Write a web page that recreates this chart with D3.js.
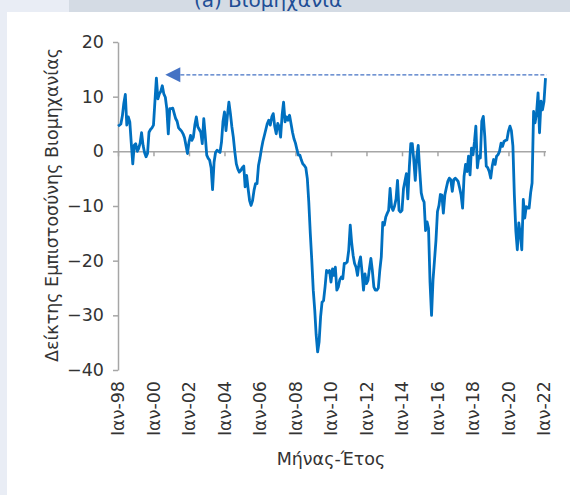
<!DOCTYPE html>
<html>
<head>
<meta charset="utf-8">
<script src="https://cdn.jsdelivr.net/npm/d3@7"></script>
<style>
  body { margin: 0; }
  svg text { font-family: 'DejaVu Sans', sans-serif; }
</style>
</head>
<body>
<div id="chart"></div>
<script>
// data: monthly industry confidence index, Jan 1998 .. Feb 2022
var startYear = 1998;
var startMonth = 0;
var industry = [
  4.6, 4.8, 5.0, 6.5, 8.8, 10.4, 4.8, 6.3, 5.4, 1.5, -2.3, 1.1,
  1.4, 0.0, 0.5, 1.5, 3.4, 1.1, -0.2, -1.0, -0.4, 3.5, 4.0, 4.3,
  4.8, 9.3, 13.4, 9.6, 10.5, 11.0, 12.0, 10.5, 9.9, 7.8, 3.2, 7.8,
  7.8, 7.9, 7.0, 6.0, 5.5, 4.3, 4.0, 3.7, 3.2, 2.5, 1.0, -0.4,
  1.7, 2.9, 2.0, 2.6, 4.8, 6.3, 4.5, 4.0, 3.5, 1.4, 6.0, 2.9,
  -0.7, -1.3, -1.6, -3.0, -7.0, -2.0, -0.2, 0.2, 0.0, -0.2, 1.7, 5.4,
  7.2, 3.8, 6.5, 9.0, 7.0, 4.5, 2.6, -0.1, -2.3, -3.2, -3.8, -3.5,
  -3.0, -2.7, -6.5, -4.4, -6.8, -9.0, -9.9, -9.0, -7.1, -5.9, -5.9, -2.6,
  -1.2, 0.5, 1.8, 2.9, 4.0, 5.1, 5.7, 4.8, 6.3, 6.9, 4.5, 3.2,
  5.1, 4.5, 2.6, 6.6, 9.0, 5.4, 6.3, 5.7, 6.6, 5.1, 3.5, 2.3,
  1.5, 0.3, -0.7, -0.7, -1.6, -2.3, -2.6, -3.0, -5.0, -9.3, -15.0, -19.8,
  -25.4, -29.1, -33.5, -36.7, -34.9, -30.3, -27.6, -27.3, -24.8, -21.8, -22.1, -21.8,
  -23.9, -21.5, -22.7, -21.2, -25.4, -24.8, -23.5, -23.0, -23.3, -20.5, -20.5, -20.2,
  -18.1, -13.5, -16.6, -19.0, -20.5, -21.2, -22.7, -20.5, -19.3, -22.0, -25.4, -22.4,
  -24.2, -23.6, -21.5, -19.6, -21.8, -24.8, -25.4, -25.4, -25.0, -21.8, -19.3, -13.0,
  -13.5, -12.0, -11.4, -10.8, -6.8, -10.2, -10.8, -10.0, -8.7, -5.3, -10.8, -11.1,
  -10.8, -6.8, -5.5, -4.1, -8.7, -2.9, 1.4, 1.4, -1.6, -5.3, -1.0, 1.1,
  -3.5, -7.6, -8.7, -9.3, -14.5, -12.9, -14.1, -24.0, -30.0, -23.6, -19.9, -16.3,
  -11.0, -9.9, -7.9, -8.0, -11.3, -8.0, -6.7, -5.5, -4.9, -5.2, -7.3, -5.2,
  -4.9, -5.2, -5.5, -6.7, -8.0, -10.4, -4.6, -2.4, -3.7, -0.9, -4.3, 0.6,
  -0.6, 1.8, 4.6, -3.0, -0.9, -1.2, 5.5, 6.4, 2.7, -2.7, -3.0, -3.7,
  -4.9, -2.7, -1.5, -2.4, -0.9, -0.6, 0.0, 1.5, 0.9, 1.8, 2.0, 2.1,
  3.7, 4.6, 3.8, 1.0, -8.0, -14.6, -18.0, -13.1, -15.2, -18.0, -8.8, -12.2,
  -10.1, -10.4, -10.4, -7.6, -5.8, 7.3, 5.2, 7.0, 10.7, 3.4, 9.2, 7.6,
  9.1, 13.4
];
var xTickYears = [1998, 2000, 2002, 2004, 2006, 2008, 2010, 2012, 2014, 2016, 2018, 2020, 2022];
var yTicks = [-40, -30, -20, -10, 0, 10, 20];
// dashed guide: latest level carried back to 2000
var guideLevel = 14;
var guideFrom = [2022, 1];
var guideTo = [2000, 8];

var title = '(a) Βιομηχανία';
var yTitle = 'Δείκτης Εμπιστοσύνης Βιομηχανίας';
var xTitle = 'Μήνας-Έτος';
var monthShort = 'Ιαν';

// size
var W = 570;
var H = 495;

var svg = d3
  .select('#chart')
  .append('svg')
  .attr('width', W)
  .attr('height', H);

// background panels
svg.append('rect').attr('width', W).attr('height', H).attr('fill', '#e9edf5');
svg
  .append('rect')
  .attr('x', 69)
  .attr('y', 0)
  .attr('width', W - 69)
  .attr('height', 12)
  .attr('fill', '#d4dbe4');
svg
  .append('rect')
  .attr('x', 7)
  .attr('y', 12)
  .attr('width', W - 7)
  .attr('height', H - 12)
  .attr('fill', '#ffffff');

// title, cut by the top edge as in the source page
svg
  .append('text')
  .attr('x', 268)
  .attr('y', 6.5)
  .attr('text-anchor', 'middle')
  .attr('font-size', 20)
  .attr('fill', '#1f4e96')
  .text(title);

// scales
var points = industry.map(function (v, i) {
  return { date: new Date(startYear, startMonth + i, 1), value: v };
});
var x = d3
  .scaleTime()
  .domain([points[0].date, points[points.length - 1].date])
  .range([118, 545.5]);
var y = d3.scaleLinear().domain([-40, 20]).range([370, 42]);

var axisColor = '#a6a6a6';
var textColor = '#333333';
var fontSize = 17.5;

// axis: y
var gy = svg
  .append('g')
  .attr('transform', 'translate(118,0)')
  .call(
    d3.axisLeft(y).tickValues(yTicks).tickSize(5).tickSizeOuter(0).tickPadding(9)
  );
gy.select('.domain').attr('stroke', axisColor).attr('stroke-width', 1.5);
gy.selectAll('.tick line').attr('stroke', axisColor).attr('stroke-width', 1.5);
gy.selectAll('.tick text')
  .attr('font-size', fontSize)
  .attr('fill', textColor)
  .attr('font-family', "'DejaVu Sans', sans-serif");

// axis: x (drawn on the zero line)
var tickDates = xTickYears.map(function (yr) {
  return new Date(yr, 0, 1);
});
var gx = svg
  .append('g')
  .attr('transform', 'translate(0,' + y(0) + ')')
  .call(
    d3.axisBottom(x).tickValues(tickDates).tickSize(5).tickSizeOuter(0).tickFormat('')
  );
gx.select('.domain').attr('stroke', axisColor).attr('stroke-width', 1.5);
gx.selectAll('.tick line').attr('stroke', axisColor).attr('stroke-width', 1.5);

// x labels, below the plot
svg
  .append('g')
  .selectAll('text')
  .data(tickDates)
  .join('text')
  .attr('transform', function (d) {
    return 'translate(' + x(d) + ',381) rotate(-90)';
  })
  .attr('text-anchor', 'end')
  .attr('dy', '0.35em')
  .attr('font-size', fontSize)
  .attr('fill', textColor)
  .text(function (d) {
    return monthShort + '-' + String(d.getFullYear()).slice(2);
  });

// axis titles
svg
  .append('text')
  .attr('transform', 'translate(58,205) rotate(-90)')
  .attr('text-anchor', 'middle')
  .attr('font-size', fontSize)
  .attr('fill', textColor)
  .text(yTitle);
svg
  .append('text')
  .attr('x', 331)
  .attr('y', 465)
  .attr('text-anchor', 'middle')
  .attr('font-size', fontSize)
  .attr('fill', textColor)
  .text(xTitle);

// guide: dashed line + arrow head
var gFrom = new Date(guideFrom[0], guideFrom[1], 1);
var gTo = new Date(guideTo[0], guideTo[1], 1);
var gyv = y(guideLevel);
var headLen = 15;
svg
  .append('line')
  .attr('x1', x(gTo) + headLen)
  .attr('y1', gyv)
  .attr('x2', x(gFrom) + 1)
  .attr('y2', gyv)
  .attr('stroke', '#4472c4')
  .attr('stroke-width', 1.2)
  .attr('stroke-dasharray', '4,2');
svg
  .append('path')
  .attr(
    'd',
    'M' + x(gTo) + ',' + gyv +
      'L' + (x(gTo) + headLen) + ',' + (gyv - 7.5) +
      'L' + (x(gTo) + headLen) + ',' + (gyv + 7.5) + 'Z'
  )
  .attr('fill', '#4472c4');

// series line
var line = d3
  .line()
  .x(function (d) { return x(d.date); })
  .y(function (d) { return y(d.value); });
svg
  .append('path')
  .datum(points)
  .attr('d', line)
  .attr('fill', 'none')
  .attr('stroke', '#0070c0')
  .attr('stroke-width', 2.8)
  .attr('stroke-linejoin', 'round');
</script>
</body>
</html>
